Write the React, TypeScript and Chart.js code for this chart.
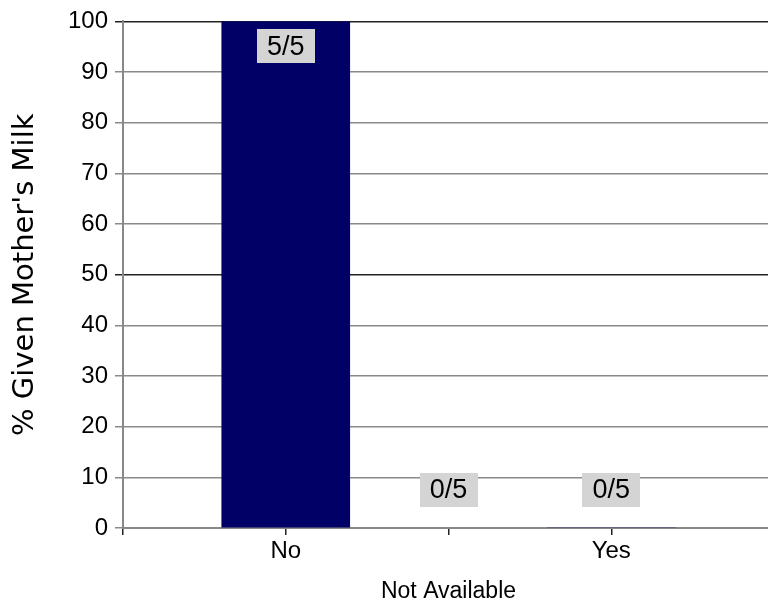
import React, { useEffect, useRef } from "react";
import { Chart, registerables } from "chart.js";

Chart.register(...registerables);

const categories = ["No", "Yes"];
const values = [100, 0];
const yTicks = [0, 10, 20, 30, 40, 50, 60, 70, 80, 90, 100];
const xTickMarks = [-0.5, 0, 0.5, 1, 1.5];
const labelPositions = [0, 0.5, 1];
const labelValues = [100, 0, 0];
const labelTexts = ["5/5", "0/5", "0/5"];
const yTitle = "% Given Mother's Milk";
const xTitle = "Not Available";

const FONT = "'Liberation Sans', Arial, sans-serif";

const boxLabels = {
  id: "boxLabels",
  afterDatasetsDraw(chart: any) {
    const { ctx, scales } = chart;
    const xs = scales.x;
    const ys = scales.y;
    ctx.save();
    ctx.font = `27px ${FONT}`;
    ctx.textAlign = "center";
    ctx.textBaseline = "middle";
    labelTexts.forEach((t, i) => {
      const px = xs.getPixelForValue(labelPositions[i]);
      const py = ys.getPixelForValue(labelValues[i]);
      const w = ctx.measureText(t).width + 20;
      const h = 34;
      const top = labelValues[i] > 50 ? py + 8 : py - 21 - h;
      ctx.fillStyle = "#d4d4d4";
      ctx.fillRect(Math.round(px - w / 2), Math.round(top), Math.round(w), h);
      ctx.fillStyle = "#000000";
      ctx.fillText(t, px, top + h / 2 + 1);
    });
    ctx.restore();
  },
};

export default function App() {
  const ref = useRef<HTMLCanvasElement>(null);
  useEffect(() => {
    if (!ref.current) return;
    const chart = new Chart(ref.current, {
      type: "bar",
      data: {
        datasets: [
          {
            data: categories.map((c, i) => ({ x: i, y: values[i] })),
            backgroundColor: "#000066",
            borderColor: "#000066",
            borderWidth: 0,
            barThickness: 128,
          },
        ],
      },
      options: {
        animation: false,
        responsive: true,
        maintainAspectRatio: false,
        layout: { padding: { top: 20, left: 0, right: 0, bottom: 0 } },
        plugins: { legend: { display: false }, tooltip: { enabled: false } },
        scales: {
          x: {
            type: "linear",
            offset: false,
            min: xTickMarks[0],
            max: xTickMarks[xTickMarks.length - 1],
            afterBuildTicks: (s: any) => {
              s.ticks = xTickMarks.map((v) => ({ value: v }));
            },
            afterFit: (s: any) => {
              s.height = 75;
            },
            ticks: {
              autoSkip: false,
              maxRotation: 0,
              padding: 2,
              color: "#000",
              font: { family: FONT, size: 24 },
              callback: (v: any) =>
                Number.isInteger(v) && categories[v] !== undefined ? categories[v] : "",
            },
            grid: {
              offset: false,
              drawOnChartArea: false,
              drawTicks: true,
              tickLength: 7,
              color: "#222",
              lineWidth: 1.5,
            },
            border: { display: true, color: "#888", width: 2 },
            title: {
              display: true,
              text: xTitle,
              color: "#000",
              font: { family: FONT, size: 23, lineHeight: 1 },
              padding: { top: 0, bottom: 0 },
            },
          },
          y: {
            min: 0,
            max: 100,
            afterBuildTicks: (s: any) => {
              s.ticks = yTicks.map((v) => ({ value: v }));
            },
            afterFit: (s: any) => {
              s.width = 123;
            },
            ticks: {
              padding: 7,
              color: "#000",
              font: { family: FONT, size: 24 },
            },
            grid: {
              drawTicks: true,
              tickLength: 8,
              lineWidth: 1.5,
              color: (c: any) =>
                c.tick && (c.tick.value === 50 || c.tick.value === 100) ? "#222" : "#8a8a8a",
            },
            border: { display: true, color: "#888", width: 2 },
            title: {
              display: true,
              text: yTitle,
              color: "#000",
              font: { family: "'DejaVu Sans', sans-serif", size: 29, lineHeight: 1.2 },
              padding: { top: 8, bottom: 0 },
            },
          },
        },
      },
      plugins: [boxLabels],
    });
    return () => chart.destroy();
  }, []);
  return (
    <div style={{ position: "fixed", left: 0, top: 0, width: 776, height: 603, background: "#fff" }}>
      <canvas ref={ref} />
    </div>
  );
}
